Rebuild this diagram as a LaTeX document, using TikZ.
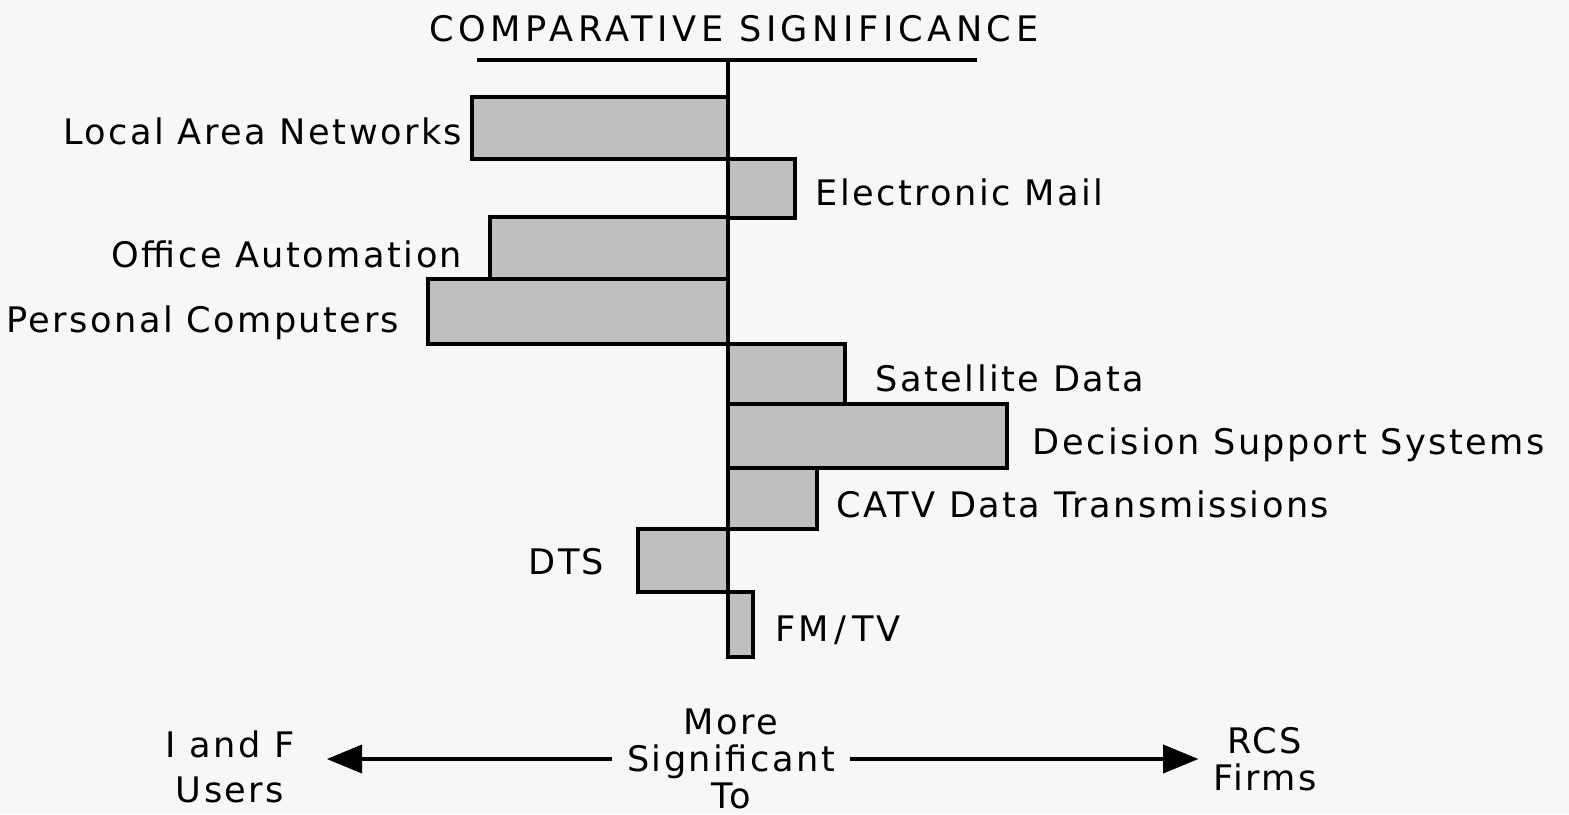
\documentclass[tikz,border=0pt]{standalone}
\usepackage{fontspec}
\setmainfont{DejaVu Sans}[LetterSpace=7]
\usetikzlibrary{arrows.meta}
\tikzset {>={Triangle[length=10pt,width=8pt]}}
\tikzset{
  lbl/.style={font=\fontsize{10}{12}\selectfont,inner sep=0pt},
  bar/.style={draw,line width=1.1pt,fill=black!25},
  arr/.style={->,line width=.9pt}
}

\begin{document}
\begin{tikzpicture}[x=.01cm,y=-.01cm]
\useasboundingbox (0,0) rectangle (1569,814);
\fill[black!3] (0,0) rectangle (1569,814);

\node[lbl,anchor=base,font=\fontsize{10}{12}\selectfont\addfontfeature{LetterSpace=13}] (title) at (734,41) {COMPARATIVE SIGNIFICANCE};
\draw[line width=1.2pt]
  (477,60) coordinate (L) --
  (977,60) coordinate (R);
\coordinate (top) at (728,60);
\coordinate (bot) at (728,657);

\foreach \ya/\yb/\xb/\lx/\ly/\name/\txt in {97/159/472/463/144/lan/Local Area Networks,
    217/279/490/463/267/oa/Office Automation,
    279/344/428/400/332/pc/Personal Computers,
    529/592/638/605/574/dts/DTS}
{
  \draw[bar] (728,\ya) rectangle (\xb,\yb);
  \node[lbl,anchor=base east] (\name) at (\lx,\ly) {\txt};
}

\foreach \ya/\yb/\xb/\lx/\ly/\name/\txt in {159/218/795/815/205/em/Electronic Mail,
    344/404/845/875/391/sd/Satellite Data,
    404/468/1007/1032/454/dss/Decision Support Systems,
    468/529/817/836/517/catv/CATV Data Transmissions,
    592/657/753/775/641/fm/{FM\,/\,TV}}
{
  \draw[bar] (728,\ya) rectangle (\xb,\yb);
  \node[lbl,anchor=base west] (\name) at (\lx,\ly) {\txt};
}

\draw[line width=1pt] (top) -- (bot);

\node[lbl,align=center,inner sep=4pt] (sig) at (731,759) {More\\[-1.4pt]Significant\\[-1.4pt]To};
\node[lbl,align=center,inner sep=4pt] (users) at (230,767) {I and F\\[.6pt]Users};
\node[lbl,align=center,inner sep=4pt] (rcs) at (1265,759) {RCS\\[-1.3pt]Firms};

\draw[arr,shorten >=5pt] (sig.west) -- (sig.west -| users.east);
\draw[arr] (sig.east) -- (sig.east -| rcs.west);
\end{tikzpicture}
\end{document}
